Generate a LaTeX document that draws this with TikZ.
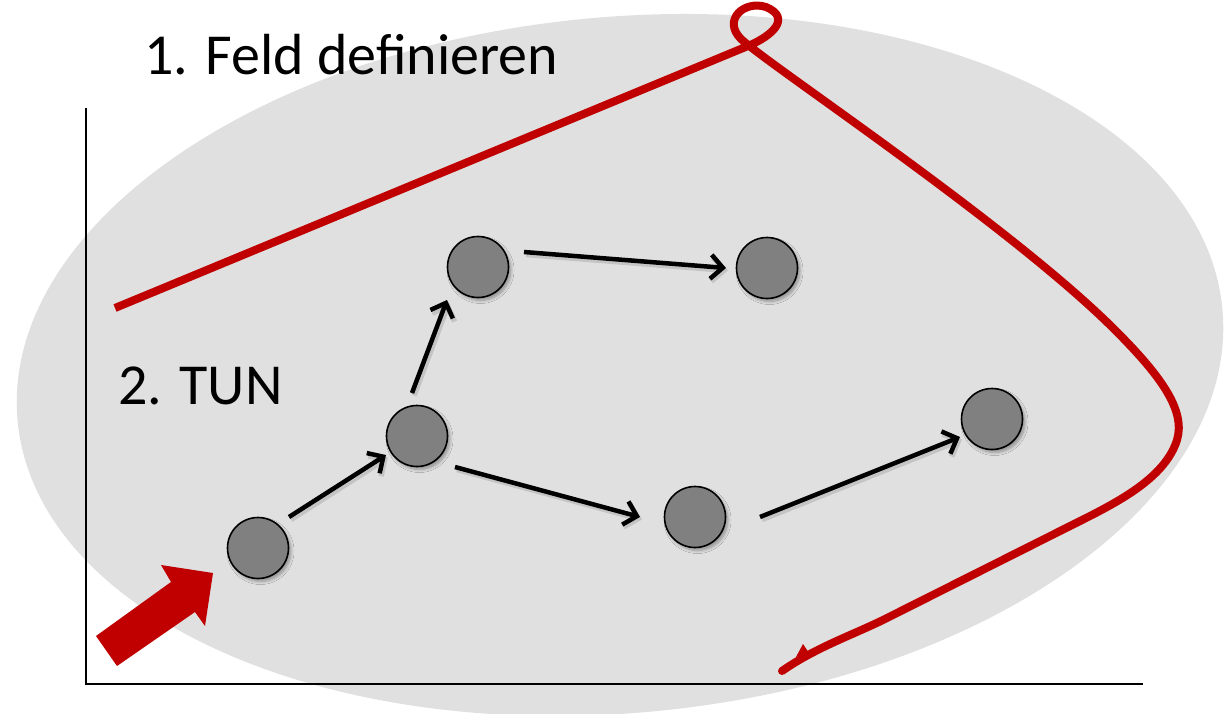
\documentclass[tikz,border=0pt]{standalone}
\usepackage{fontspec}
\setmainfont{Carlito}
\usetikzlibrary{arrows.meta,shadows.blur}
\definecolor{fieldgray}{RGB}{224,224,224}
\definecolor{darkred}{RGB}{192,0,0}
\definecolor{nodegray}{RGB}{128,128,128}
\tikzset{
  state/.style={circle,draw=black,line width=1.6pt,fill=nodegray,minimum size=61pt,inner sep=0pt,
    blur shadow={shadow xshift=2.5pt,shadow yshift=-3pt,shadow blur steps=6,shadow opacity=35,shadow blur radius=3pt}},
  move/.style={line width=4.5pt,-{Straight Barb[length=12pt,width=24pt]},
    preaction={draw=black,opacity=0.12,line width=5.5pt,transform canvas={shift={(2pt,-2.5pt)}}}},
  pen/.style={line width=8pt,draw=darkred,line join=round},
  label/.style={inner sep=0pt,font=\fontsize{58}{68}\selectfont}
}
\begin{document}
\begin{tikzpicture}[x=1pt,y=-1pt]
\useasboundingbox (0,0) rectangle (1225,714);
% field
\fill[fieldgray,rotate around={5.3:(620,365)}] (620,365) ellipse [x radius=605pt,y radius=348pt];
% axes
\draw[line width=2pt] (86,108) -- (86,684) -- (1143,684);
% labels
\node[label,anchor=base west] (feld) at (144,75) {1. Feld definieren};
\node[label,anchor=base west] (tun) at (118,404) {2. TUN};
% states
\node[state] (a) at (258,548) {};
\node[state] (b) at (417,436) {};
\node[state] (c) at (478,267) {};
\node[state] (d) at (767,268) {};
\node[state] (e) at (695,517) {};
\node[state] (f) at (992,419) {};
% transitions
\draw[move] ([shift={(31,-31)}]a.center) -- ([shift={(-31,19)}]b.center);
\draw[move] ([shift={(-5,-43)}]b.center) -- ([shift={(-31,33)}]c.center);
\draw[move] ([shift={(46,-15)}]c.center) -- ([shift={(-41,0)}]d.center);
\draw[move] ([shift={(38,31)}]b.center) -- ([shift={(-55,0)}]e.center);
\draw[move] ([shift={(65,0)}]e.center) -- ([shift={(-32,18)}]f.center);
% entry arrow
\fill[darkred] (96,636) -- (171,582) -- (161,565) -- (213,573) -- (205,626) -- (195,612) -- (117,666) -- cycle;
% boundary stroke: square start, rounded end with a small kink
\draw[pen] (115,308) -- (748,46)
  .. controls (772,36) and (792,18) .. (766,7)
  .. controls (744,0) and (722,20) .. (741,39)
  .. controls (770,66) and (1010,225) .. (1115,330)
  .. controls (1160,375) and (1186,410) .. (1177,440)
  .. controls (1166,475) and (1125,498) .. (1090,516)
  -- (883,620) .. controls (850,636) and (815,648) .. (782,671);
\fill[darkred] (782,671) circle[radius=4pt];
\fill[darkred] (796,657) -- (803,644) -- (809,653) -- cycle;
\end{tikzpicture}
\end{document}
